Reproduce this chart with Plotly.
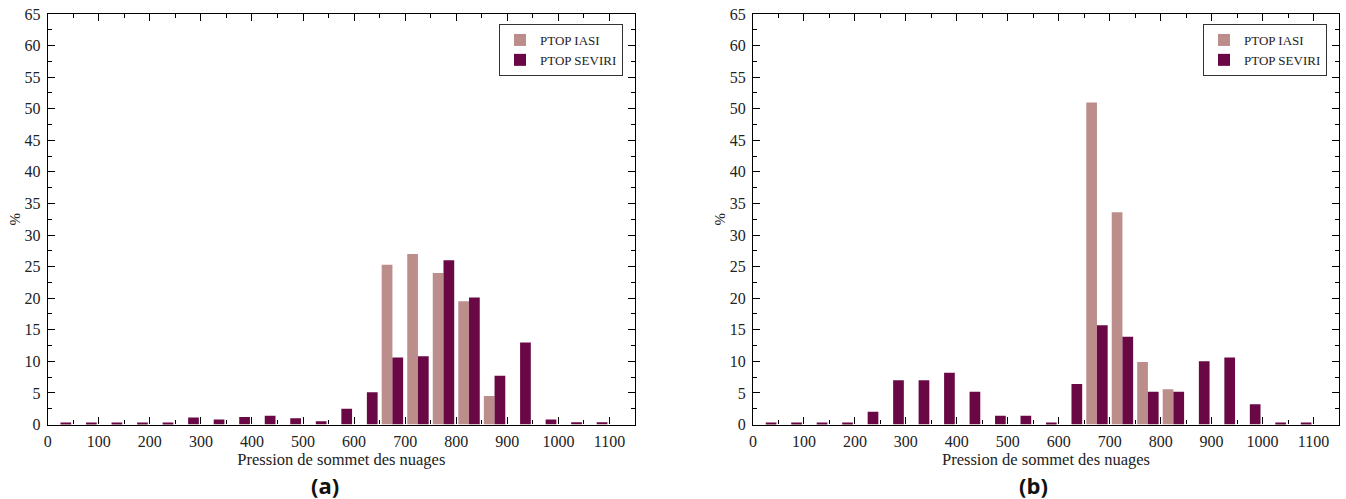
import plotly.graph_objects as go

# Bin centres of the 50 hPa pressure classes
bins = [25, 75, 125, 175, 225, 275, 325, 375, 425, 475, 525,
        575, 625, 675, 725, 775, 825, 875, 925, 975, 1025, 1075]

# Panel (a): frequency (%) per cloud-top pressure class
iasi_a = [0, 0, 0, 0, 0, 0, 0, 0, 0, 0, 0,
          0, 0, 25.3, 27.0, 24.0, 19.5, 4.5, 0, 0, 0, 0]
seviri_a = [0.3, 0.3, 0.3, 0.3, 0.3, 1.1, 0.8, 1.2, 1.4, 1.0, 0.5,
            2.5, 5.1, 10.6, 10.8, 26.0, 20.1, 7.7, 13.0, 0.8, 0.35, 0.35]

# Panel (b)
iasi_b = [0, 0, 0, 0, 0, 0, 0, 0, 0, 0, 0,
          0, 0, 51.0, 33.6, 9.9, 5.6, 0, 0, 0, 0, 0]
seviri_b = [0.3, 0.3, 0.3, 0.3, 2.0, 7.0, 7.0, 8.2, 5.2, 1.4, 1.4,
            0.3, 6.4, 15.7, 13.9, 5.2, 5.2, 10.0, 10.6, 3.2, 0.3, 0.3]

x_ticks = list(range(0, 1101, 100))
y_ticks = list(range(0, 66, 5))

IASI_COLOR = "#BC8E8B"
SEVIRI_COLOR = "#6A0846"
SERIF = "Liberation Serif, Times New Roman, serif"

fig = go.Figure()

def add_panel(iasi, seviri, xa, ya, legend):
    fig.add_trace(go.Bar(x=bins, y=iasi, name="PTOP IASI", marker_color=IASI_COLOR,
                         marker_line_width=0, xaxis=xa, yaxis=ya, legend=legend))
    fig.add_trace(go.Bar(x=bins, y=seviri, name="PTOP SEVIRI", marker_color=SEVIRI_COLOR,
                         marker_line_width=0, xaxis=xa, yaxis=ya, legend=legend))

add_panel(iasi_a, seviri_a, "x", "y", "legend")
add_panel(iasi_b, seviri_b, "x2", "y2", "legend2")

W, H = 1346, 499
y_dom = [(H - 424.5) / H, (H - 14) / H]

def x_axis(domain, anchor):
    return dict(
        domain=domain, anchor=anchor, range=[0, 1150], automargin=False,
        tickvals=x_ticks, ticktext=[str(v) for v in x_ticks],
        ticks="inside", ticklen=7, tickwidth=1, tickcolor="black",
        minor=dict(dtick=50, tick0=0, ticks="inside", ticklen=4, tickcolor="black"),
        showline=True, linecolor="black", linewidth=1.2, mirror="ticks",
        showgrid=False, zeroline=False,
        tickfont=dict(family=SERIF, size=16, color="#222"),
        title=dict(text="Pression de sommet des nuages", standoff=1,
                   font=dict(family=SERIF, size=16.5, color="#222")),
        ticklabelstandoff=2,
    )

def y_axis(anchor):
    return dict(
        domain=y_dom, anchor=anchor, range=[0, 65], automargin=False,
        tickvals=y_ticks, ticktext=[str(v) for v in y_ticks],
        ticks="inside", ticklen=7, tickwidth=1, tickcolor="black",
        minor=dict(dtick=2.5, tick0=0, ticks="inside", ticklen=4, tickcolor="black"),
        showline=True, linecolor="black", linewidth=1.2, mirror="ticks",
        showgrid=False, zeroline=False,
        tickfont=dict(family=SERIF, size=16, color="#222"),
        title=dict(text="%", standoff=0, font=dict(family=SERIF, size=15, color="#222")),
        ticklabelstandoff=3,
    )

legend_style = dict(
    xanchor="right", yanchor="top", y=1 - 24 / H,
    bgcolor="white", bordercolor="#333", borderwidth=1,
    font=dict(family=SERIF, size=13, color="#222"),
    tracegroupgap=0, itemsizing="constant", itemwidth=30,
)

caption_font = dict(family="Open Sans, Noto Sans, sans-serif", size=22, color="#111")

fig.update_layout(
    width=W, height=H,
    margin=dict(l=0, r=0, t=0, b=0, autoexpand=False),
    paper_bgcolor="white", plot_bgcolor="white",
    barmode="group", bargap=0.16, bargroupgap=0,
    xaxis=x_axis([47.7 / W, 635 / W], "y"),
    yaxis=y_axis("x"),
    xaxis2=x_axis([753 / W, 1339 / W], "y2"),
    yaxis2=y_axis("x2"),
    legend=dict(x=623 / W, **legend_style),
    legend2=dict(x=1327 / W, **legend_style),
    annotations=[
        dict(text="<b>(a)</b>", x=325 / W, y=1 - 485 / H, xref="paper", yref="paper",
             xanchor="center", yanchor="middle", showarrow=False, font=caption_font),
        dict(text="<b>(b)</b>", x=1033 / W, y=1 - 485 / H, xref="paper", yref="paper",
             xanchor="center", yanchor="middle", showarrow=False, font=caption_font),
    ],
    showlegend=True,
)

fig.write_html("out.html")
